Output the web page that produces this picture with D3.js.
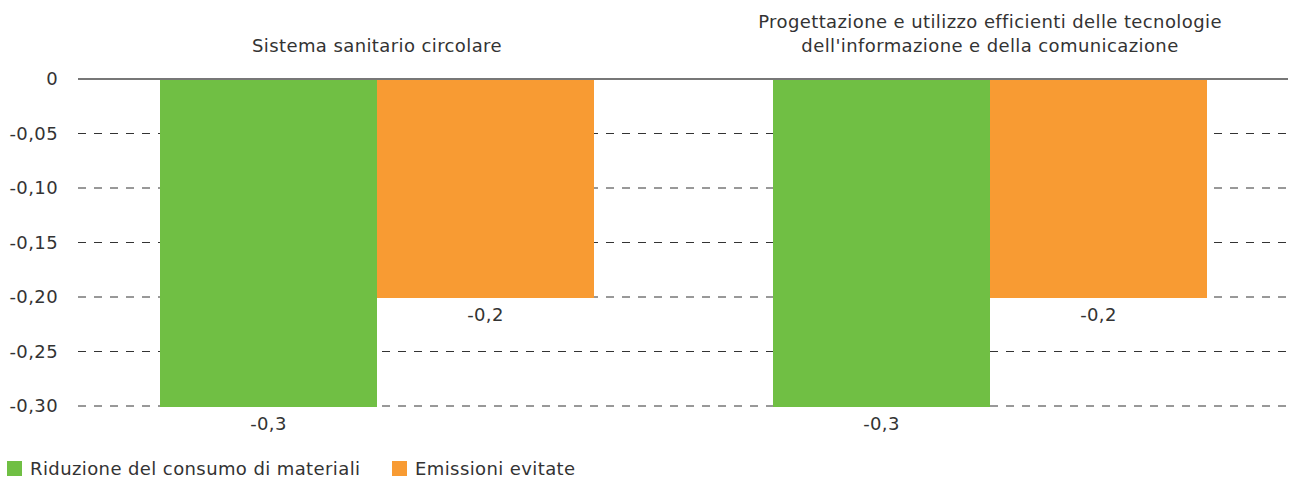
<!DOCTYPE html>
<html>
<head>
<meta charset="utf-8">
<script src="https://cdn.jsdelivr.net/npm/d3@7"></script>
<style>
  body { margin: 0; background: #fff; }
  text { font-family: "DejaVu Sans", "Noto Sans", sans-serif; fill: #333; letter-spacing: 0.4px; }
</style>
</head>
<body>
<script>
// dati del grafico
const categorie = [
  ["Sistema sanitario circolare"],
  ["Progettazione e utilizzo efficienti delle tecnologie", "dell'informazione e della comunicazione"]
];
const serie = ["Riduzione del consumo di materiali", "Emissioni evitate"];
const colori = ["#70bf44", "#f89b33"];
const valoriMateriali = [-0.3, -0.3];
const valoriEmissioni = [-0.2, -0.2];
const ticks = [0, -0.05, -0.10, -0.15, -0.20, -0.25, -0.30];

const W = 1297, H = 482;
const FS = "18px";
const svg = d3.select("body").append("svg")
  .attr("width", W).attr("height", H);

const it = d3.formatLocale({ decimal: ",", thousands: ".", grouping: [3], currency: ["€", ""], minus: "-" });
const fmtTick = d => d === 0 ? "0" : it.format(".2f")(d);
const fmtVal = it.format(".1f");

const x0 = d3.scaleBand().domain(d3.range(categorie.length)).range([70.5, 1296.5]);
const x1 = d3.scaleBand().domain(d3.range(serie.length)).range([0, 434]);
const y = d3.scaleLinear().domain([0, -0.3]).range([79, 406]);

const gridL = 78, gridR = 1288;

// griglia tratteggiata
svg.append("g").selectAll("line")
  .data(ticks.filter(d => d !== 0))
  .join("line")
  .attr("x1", gridL).attr("x2", gridR)
  .attr("y1", d => y(d)).attr("y2", d => y(d))
  .attr("stroke", "#333").attr("stroke-width", 1)
  .attr("stroke-dasharray", "8,8");

// etichette asse y
svg.append("g").selectAll("text")
  .data(ticks)
  .join("text")
  .attr("x", 58).attr("y", d => y(d))
  .attr("dy", "0.35em")
  .attr("text-anchor", "end")
  .style("font-size", FS)
  .text(fmtTick);

// barre
const gruppi = svg.append("g").selectAll("g")
  .data(categorie.map((c, i) => [valoriMateriali[i], valoriEmissioni[i]]))
  .join("g")
  .attr("transform", (d, i) => `translate(${x0(i) + (x0.bandwidth() - 434) / 2},0)`);

gruppi.selectAll("rect")
  .data(d => d)
  .join("rect")
  .attr("x", (d, j) => x1(j))
  .attr("width", x1.bandwidth())
  .attr("y", y(0))
  .attr("height", d => y(d) - y(0) + 1)
  .attr("fill", (d, j) => colori[j]);

gruppi.selectAll("text")
  .data(d => d)
  .join("text")
  .attr("x", (d, j) => x1(j) + x1.bandwidth() / 2)
  .attr("y", d => y(d) + 24)
  .attr("text-anchor", "middle")
  .style("font-size", FS)
  .text(fmtVal);

// linea dello zero
svg.append("line")
  .attr("x1", gridL).attr("x2", gridR)
  .attr("y1", y(0)).attr("y2", y(0))
  .attr("stroke", "#777").attr("stroke-width", 2);

// titoli delle categorie
svg.append("g").selectAll("text")
  .data(categorie)
  .join("text")
  .attr("x", (d, i) => x0(i) + x0.bandwidth() / 2)
  .attr("text-anchor", "middle")
  .style("font-size", FS)
  .each(function(d) {
    const t = d3.select(this);
    d.forEach((riga, k) => {
      t.append("tspan")
        .attr("x", t.attr("x"))
        .attr("y", 52 - (d.length - 1 - k) * 24)
        .text(riga);
    });
  });

// legenda
const legX = [7, 392];
const leg = svg.append("g").selectAll("g")
  .data(serie)
  .join("g")
  .attr("transform", (d, i) => `translate(${legX[i]},461)`);
leg.append("rect").attr("width", 15).attr("height", 15).attr("fill", (d, i) => colori[i]);
leg.append("text").attr("x", 23).attr("y", 8).attr("dy", "0.35em")
  .style("font-size", FS).text(d => d);
</script>
</body>
</html>
